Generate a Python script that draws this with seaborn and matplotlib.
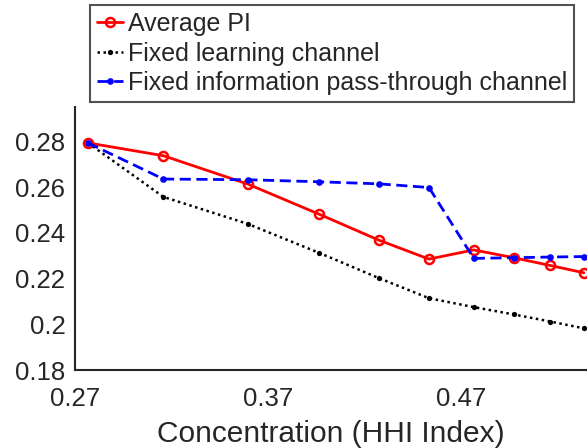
import matplotlib
matplotlib.use("Agg")
import matplotlib.pyplot as plt
import seaborn as sns
import pandas as pd

hhi = [0.2767, 0.3158, 0.3595, 0.3963, 0.4274, 0.4534, 0.4766, 0.4973, 0.5163, 0.5337]
average_pi = [0.2793, 0.2737, 0.2613, 0.2482, 0.2368, 0.2285, 0.2325, 0.2291, 0.2257, 0.2225]
fixed_learning = [0.2793, 0.2557, 0.2439, 0.2313, 0.2202, 0.2114, 0.2075, 0.2043, 0.2012, 0.1982]
fixed_passthrough = [0.2793, 0.2635, 0.2632, 0.2623, 0.2614, 0.2598, 0.2288, 0.2291, 0.2294, 0.2296]

labels = ["Average PI", "Fixed learning channel", "Fixed information pass-through channel"]
x_ticks = [0.27, 0.37, 0.47]
y_ticks = [0.18, 0.20, 0.22, 0.24, 0.26, 0.28]
y_tick_labels = ["0.18", "0.2", "0.22", "0.24", "0.26", "0.28"]

sns.set_style("white")
plt.rcParams["font.family"] = ["Liberation Sans", "DejaVu Sans"]
plt.rcParams["axes.edgecolor"] = "#262626"
plt.rcParams["xtick.color"] = "#262626"
plt.rcParams["ytick.color"] = "#262626"

fig = plt.figure(figsize=(5.87, 4.48), dpi=100)
ax = fig.add_axes([75 / 587, 1 - 370 / 448, 1 - 75 / 587, (370 - 107) / 448])

df = pd.DataFrame({"hhi": hhi, "avg": average_pi, "learn": fixed_learning, "pass": fixed_passthrough})

sns.lineplot(data=df, x="hhi", y="avg", ax=ax, color="#ff0000", linewidth=2.0,
             marker="o", markersize=6.5, markerfacecolor="none", markeredgecolor="#ff0000",
             markeredgewidth=1.8, label=labels[0])
sns.lineplot(data=df, x="hhi", y="learn", ax=ax, color="black", linewidth=1.8,
             linestyle=(0, (1, 1.4)), marker="o", markersize=3.8, markerfacecolor="black",
             markeredgecolor="black", markeredgewidth=0, label=labels[1])
sns.lineplot(data=df, x="hhi", y="pass", ax=ax, color="#0000ff", linewidth=2.0,
             linestyle=(0, (4, 2)), marker="o", markersize=4.8, markerfacecolor="#0000ff",
             markeredgecolor="#0000ff", markeredgewidth=0, label=labels[2])

ax.set_xlim(0.27, 0.5353)
ax.set_ylim(0.18, 0.295)
ax.set_xticks(x_ticks)
ax.set_xticklabels([f"{t:.2f}" for t in x_ticks])
ax.set_yticks(y_ticks)
ax.set_yticklabels(y_tick_labels)
ax.tick_params(direction="in", length=5, width=1.3, labelsize=18.5)
ax.tick_params(axis="x", pad=12)
ax.tick_params(axis="y", pad=7)
for s in ["top", "right"]:
    ax.spines[s].set_visible(False)
for s in ["left", "bottom"]:
    ax.spines[s].set_linewidth(1.5)
ax.set_xlabel("Concentration (HHI Index)", fontsize=21.5, color="#262626", labelpad=6.5)
ax.set_ylabel("")

ax.get_legend().remove()
handles, lbls = ax.get_legend_handles_labels()
leg = fig.legend(handles, lbls, loc="upper left", bbox_to_anchor=(90 / 587, 1 - 5 / 448),
                 fontsize=18, frameon=True, fancybox=False, edgecolor="#262626",
                 handlelength=1.05, handletextpad=0.18, labelspacing=0.22,
                 borderpad=0.28, borderaxespad=0)
leg.get_frame().set_linewidth(1.5)

fig.savefig("out.png", dpi=100)
